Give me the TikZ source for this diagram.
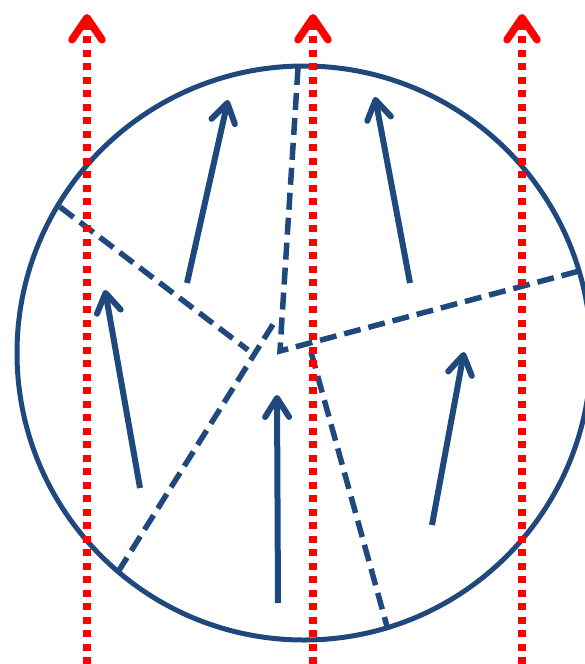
\documentclass[tikz,border=0pt]{standalone}
\usepackage{tikz}
\usetikzlibrary{arrows.meta}
\definecolor{grainblue}{RGB}{31,73,125}
\tikzset{
  boundary/.style={grainblue, line width=5.5pt, dash pattern=on 17pt off 8pt},
  orient/.style={grainblue, line width=6pt, -{Straight Barb[length=19pt,width=24pt,round]}},
  beam/.style={red, line width=7.5pt, dash pattern=on 7pt off 6.5pt, -{Straight Barb[length=22pt,width=30pt,round]}}
}
\begin{document}
\begin{tikzpicture}
    [x=1pt,y=-1pt]
    \useasboundingbox (0,0) rectangle (585,664);
    \clip (0,0) rectangle (585,664);
    % grain
    \draw [grainblue, line width=5pt] (304,353) circle (287);
    % boundaries
    \coordinate (tj) at (280,351);
    \draw [boundary] (298,68) -- (282,318) -- (tj) -- (583,270);
    \draw [boundary] (60,207) -- (248,350);
    \draw [boundary] (118,572) -- (277,318);
    \draw [boundary] (311,352) -- (388,630);
    % orientations
    \draw [orient] (187,283) -- (228,100);
    \draw [orient] (410,283) -- (375,97);
    \draw [orient] (140,488) -- (105,290);
    \draw [orient] (278,603) -- (277,395);
    \draw [orient] (432,525) -- (464,352);
    % beams
    \foreach \bx in {87,313,522}
        \draw [beam] (\bx,664) -- (\bx,14);
\end{tikzpicture}
\end{document}
